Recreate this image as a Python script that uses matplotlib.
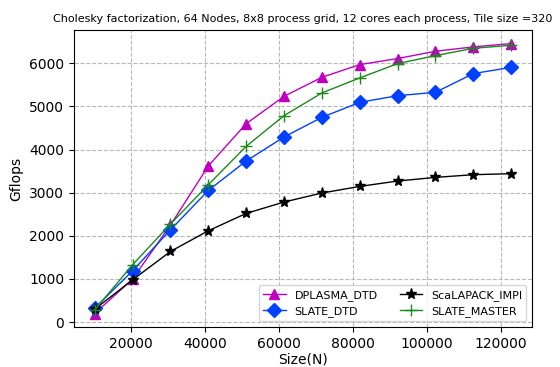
import numpy as np
import matplotlib.pyplot as plt

# Matrix sizes (N)
sizes = [10240, 20480, 30720, 40960, 51200, 61440, 71680, 81920, 92160, 102400, 112640, 122880]

# Gflops for each implementation
dplasma_dtd = [200, 1000, 2250, 3620, 4600, 5235, 5675, 5970, 6110, 6280, 6380, 6457]
slate_dtd = [325, 1190, 2140, 3053, 3735, 4292, 4747, 5095, 5250, 5327, 5761, 5907]
scalapack_impi = [300, 980, 1638, 2118, 2520, 2784, 2993, 3146, 3271, 3355, 3418, 3441]
slate_master = [285, 1330, 2273, 3185, 4075, 4787, 5313, 5661, 5993, 6178, 6348, 6418]

fig = plt.figure(figsize=(5.6, 3.67), dpi=100)
ax = fig.add_axes([0.132, 0.109, 0.818, 0.809])

ax.plot(sizes, dplasma_dtd, color='m', marker='^', markersize=7.5, linewidth=1, label='DPLASMA_DTD')
ax.plot(sizes, slate_dtd, color='#0040ff', marker='D', markersize=7, linewidth=1, label='SLATE_DTD')
ax.plot(sizes, scalapack_impi, color='k', marker='*', markersize=8, linewidth=1, label='ScaLAPACK_IMPI')
ax.plot(sizes, slate_master, color='#1a8a1a', marker='+', markersize=8, linewidth=1, label='SLATE_MASTER')

ax.grid(True, linestyle='--', color='#b8b8b8')
ax.set_xlabel('Size(N)', labelpad=1)
ax.set_ylabel('Gflops')
ax.set_xticks([20000, 40000, 60000, 80000, 100000, 120000])
ax.set_title('Cholesky factorization, 64 Nodes, 8x8 process grid, 12 cores each process, Tile size =320',
             fontsize=8)
ax.legend(loc='lower right', ncol=2, fontsize=8)

fig.savefig('out.png', dpi=100)
